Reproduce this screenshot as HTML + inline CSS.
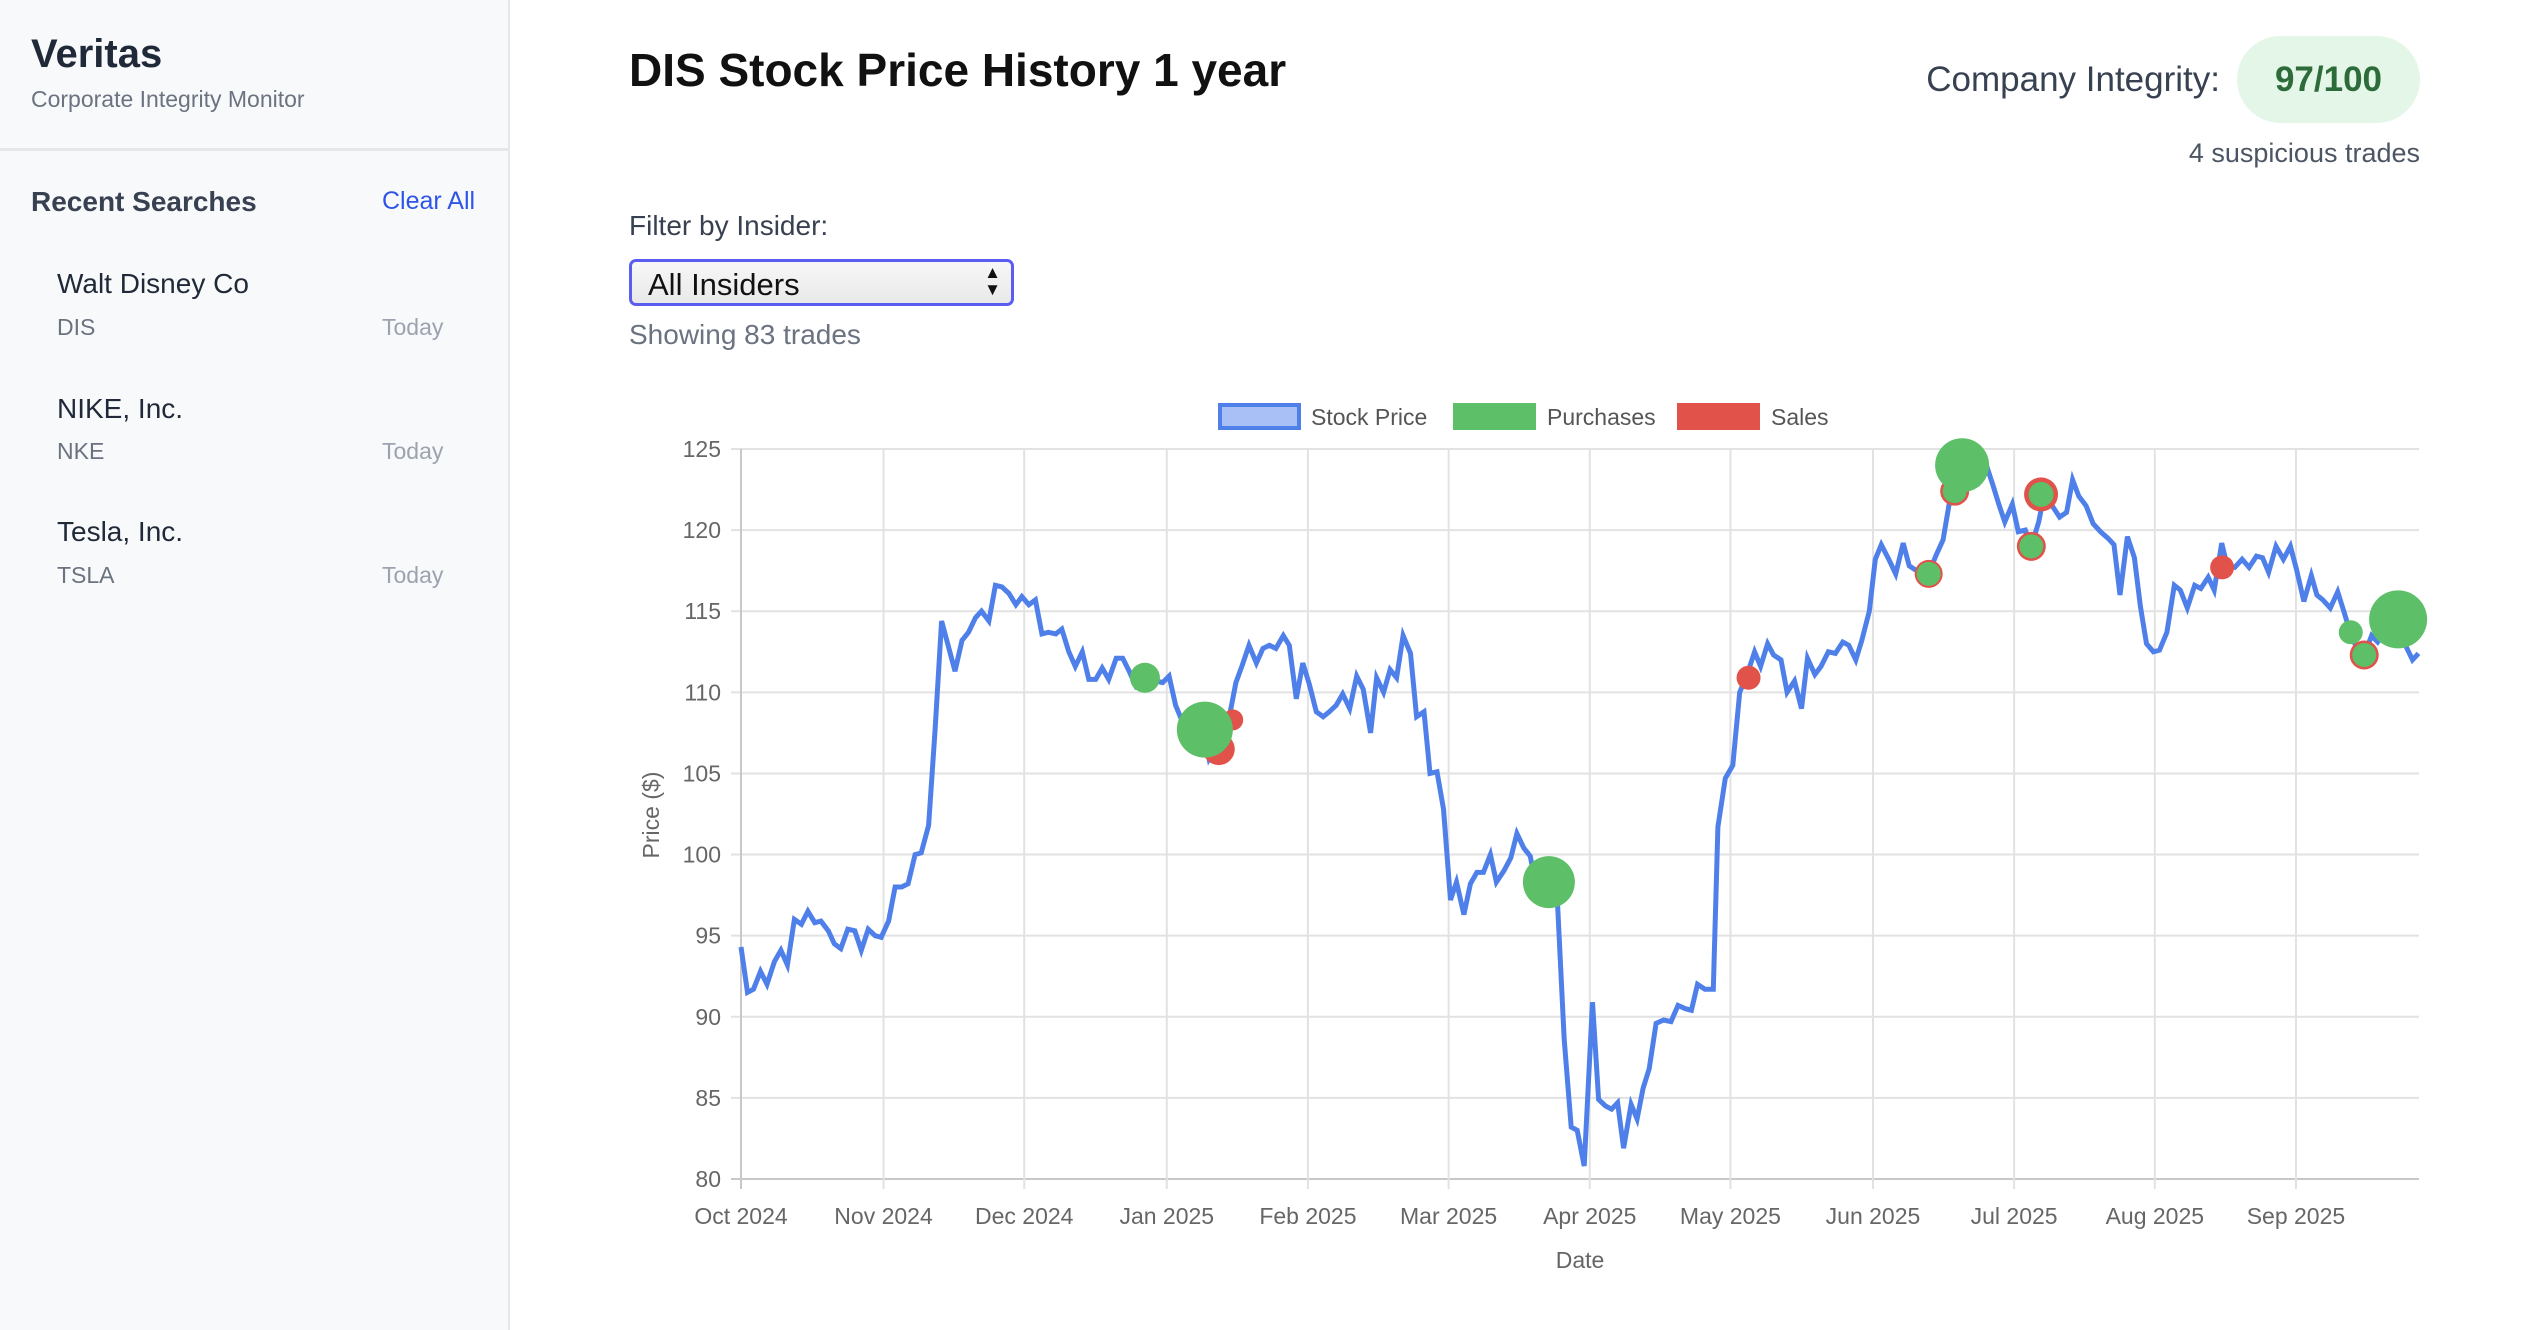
<!DOCTYPE html>
<html><head><meta charset="utf-8">
<style>
*{margin:0;padding:0;box-sizing:border-box}
body{width:2540px;height:1330px;overflow:hidden;background:#fff;font-family:"Liberation Sans",Arial,sans-serif;position:relative;color:#1f2937}
.abs{position:absolute;white-space:nowrap}
#sidebar{position:absolute;left:0;top:0;width:510px;height:1330px;background:#f8f9fb;border-right:2px solid #e5e7eb}
</style></head>
<body>
<div id="sidebar">
  <div class="abs" style="left:31px;top:32px;font-size:40px;font-weight:bold;color:#1f2937">Veritas</div>
  <div class="abs" style="left:31px;top:86px;font-size:23px;color:#6b7280">Corporate Integrity Monitor</div>
  <div class="abs" style="left:0;top:148px;width:508px;height:3px;background:#e5e7eb"></div>
  <div class="abs" style="left:31px;top:186px;font-size:28px;font-weight:bold;color:#374151">Recent Searches</div>
  <div class="abs" style="left:382px;top:187px;font-size:25px;color:#2f55e6">Clear All</div>
  <div>
    <div class="abs" style="left:57px;top:268px;font-size:28px;color:#1f2937">Walt Disney Co</div>
    <div class="abs" style="left:57px;top:314px;font-size:23px;color:#6b7280">DIS</div>
    <div class="abs" style="left:382px;top:314px;font-size:23px;color:#9ca3af">Today</div>
  </div>
  <div>
    <div class="abs" style="left:57px;top:393px;font-size:28px;color:#1f2937">NIKE, Inc.</div>
    <div class="abs" style="left:57px;top:438px;font-size:23px;color:#6b7280">NKE</div>
    <div class="abs" style="left:382px;top:438px;font-size:23px;color:#9ca3af">Today</div>
  </div>
  <div>
    <div class="abs" style="left:57px;top:516px;font-size:28px;color:#1f2937">Tesla, Inc.</div>
    <div class="abs" style="left:57px;top:562px;font-size:23px;color:#6b7280">TSLA</div>
    <div class="abs" style="left:382px;top:562px;font-size:23px;color:#9ca3af">Today</div>
  </div>
</div>

<div class="abs" style="left:629px;top:43px;font-size:46px;font-weight:bold;color:#111">DIS Stock Price History 1 year</div>
<div class="abs" style="right:320px;top:60px;font-size:35px;color:#374151">Company Integrity:</div>
<div class="abs" style="left:2237px;top:36px;width:183px;height:87px;border-radius:44px;background:#e3f6e7;color:#2e6b3a;font-size:35px;font-weight:bold;text-align:center;line-height:87px">97/100</div>
<div class="abs" style="right:120px;top:138px;font-size:27px;color:#4b5563">4 suspicious trades</div>
<div class="abs" style="left:629px;top:210px;font-size:28px;color:#374151">Filter by Insider:</div>
<div class="abs" style="left:629px;top:259px;width:385px;height:47px;border:3px solid #5b5cf0;border-radius:7px;background:linear-gradient(#f7f7f7,#e9e9e9);">
  <span class="abs" style="left:16px;top:5px;font-size:31px;color:#111">All Insiders</span>
  <span class="abs" style="right:10px;top:2px;font-size:17px;line-height:17px;color:#111">▲<br>▼</span>
</div>
<div class="abs" style="left:629px;top:319px;font-size:28px;color:#6b7280">Showing 83 trades</div>

<svg id="chart" width="2540" height="1330" style="position:absolute;left:0;top:0" xmlns="http://www.w3.org/2000/svg"></svg>

<script>
const monthLabels=["Oct 2024","Nov 2024","Dec 2024","Jan 2025","Feb 2025","Mar 2025","Apr 2025","May 2025","Jun 2025","Jul 2025","Aug 2025","Sep 2025"];
const monthDays=[0,30.7,61,91.7,122.1,152.4,182.8,213.1,243.8,274.2,304.5,334.9];
const yTicks=[80,85,90,95,100,105,110,115,120,125];
const priceDays=[0,1.4,2.7,4.2,5.6,7.2,8.6,10.0,11.5,13.0,14.4,15.9,17.2,18.8,20.1,21.5,23.0,24.5,25.9,27.4,28.9,30.2,31.8,33.2,34.6,36.0,37.5,38.8,40.4,41.8,43.2,44.6,46.1,47.6,49.0,50.5,51.8,53.4,54.8,56.2,57.7,59.2,60.5,62.0,63.4,64.8,66.2,67.8,69.1,70.6,72.0,73.5,74.9,76.4,77.8,79.2,80.8,82.2,83.6,85.0,86.6,87.9,89.4,90.8,92.2,93.6,95.2,96.5,98.0,99.4,100.8,102.2,103.8,105.1,106.6,108.0,109.4,111.0,112.4,113.8,115.2,116.8,118.1,119.6,121.0,122.4,123.9,125.4,126.7,128.2,129.6,131.1,132.6,134.0,135.6,136.9,138.4,139.8,141.2,142.6,144.2,145.5,147.1,148.4,149.9,151.3,152.8,154.1,155.7,157.1,158.5,159.9,161.4,162.7,164.3,165.8,167.1,168.6,170.0,171.5,173.0,174.4,175.8,177.3,178.8,180.1,181.6,183.4,184.7,186.2,187.5,188.8,190.1,191.7,193.0,194.3,195.6,197.1,198.7,200.3,201.8,203.4,204.7,206.0,207.6,209.4,210.4,212.0,213.6,215.1,216.7,218.3,219.6,221.1,222.4,224.0,225.3,226.9,228.4,229.7,231.3,232.6,234.2,235.7,237.3,238.6,240.1,241.4,243.0,244.3,245.6,247.2,248.7,250.3,251.6,253.2,254.5,255.8,257.3,258.9,260.2,261.8,263.3,264.9,266.5,268.0,269.6,270.9,272.2,273.8,275.1,276.6,277.9,279.5,280.8,282.4,284.0,285.5,286.8,288.1,289.7,291.2,292.8,294.4,295.7,297.0,298.6,300.1,301.4,302.7,304.2,305.5,307.1,308.7,310.0,311.5,313.1,314.4,316.0,317.3,318.9,320.1,321.7,323.3,324.8,326.4,327.7,329.0,330.6,332.2,333.7,335.0,336.6,338.2,339.4,340.7,342.3,343.9,345.2,346.7,348.3,349.6,351.2,352.5,353.8,355.3,356.9,358.5,360.0,361.3];
const prices=[94.3,91.5,91.7,92.8,92.0,93.4,94.1,93.2,96.0,95.7,96.5,95.8,95.9,95.3,94.5,94.2,95.4,95.3,94.1,95.4,95.0,94.9,95.9,98.0,98.0,98.2,100.0,100.1,101.8,107.7,114.4,112.9,111.3,113.2,113.7,114.6,115.0,114.4,116.6,116.5,116.1,115.4,115.9,115.4,115.7,113.6,113.7,113.6,113.9,112.5,111.6,112.5,110.8,110.8,111.5,110.8,112.1,112.1,111.3,110.4,110.9,110.4,110.7,110.6,111.0,109.2,108.1,107.6,107.6,107.7,105.9,106.6,108.3,108.4,110.6,111.7,112.9,111.8,112.7,112.9,112.7,113.5,112.9,109.6,111.8,110.5,108.8,108.5,108.8,109.2,109.9,109.0,111.0,110.2,107.5,110.9,110.0,111.4,110.9,113.5,112.4,108.5,108.8,105.0,105.1,102.8,97.2,98.3,96.3,98.2,98.9,98.9,100.0,98.3,99.0,99.8,101.3,100.4,99.9,97.6,98.3,97.2,97.4,88.6,83.2,83.0,80.8,90.9,84.9,84.5,84.3,84.7,81.9,84.6,83.7,85.6,86.8,89.6,89.8,89.7,90.7,90.5,90.4,92.0,91.7,91.7,101.7,104.7,105.5,110.0,111.1,112.5,111.6,113.0,112.3,112.0,110.0,110.7,109.0,112.1,111.1,111.6,112.5,112.4,113.1,112.9,112.0,113.2,115.0,118.2,119.1,118.2,117.3,119.2,117.8,117.5,117.2,117.3,118.4,119.4,121.6,122.5,124.2,123.7,123.0,124.2,122.8,121.6,120.5,121.6,119.9,120.0,119.0,120.5,122.4,121.5,120.8,121.1,123.1,122.1,121.5,120.4,119.9,119.5,119.1,116.0,119.6,118.3,115.3,113.0,112.5,112.6,113.7,116.6,116.3,115.2,116.6,116.4,117.1,116.3,119.2,117.8,117.7,118.2,117.7,118.4,118.3,117.4,119.0,118.2,119.0,117.6,115.6,117.2,116.0,115.7,115.2,116.2,115.0,113.6,112.5,112.3,113.5,113.1,113.6,114.8,114.5,112.9,112.0,112.4];
const saleDays=[102.9,105.9,217,255.8,261.4,277.9,280,319,349.6];
const salePrices=[106.5,108.3,110.9,117.3,122.4,119.0,122.2,117.7,112.3];
const saleSizes=[16,10.5,12,14,14.5,14.5,17,12,14.5];
const buyDays=[87,99.9,174,255.8,261.4,263,277.9,280,346.7,349.6,356.9];
const buyPrices=[110.9,107.7,98.3,117.3,122.4,124.0,119.0,122.2,113.7,112.3,114.5];
const buySizes=[15,28,26,12,12,27,12,12.5,12,12,29];

const X0=741,X1=2419,Y0=1179,Y1=449,DMAX=361.4,PMIN=80,PMAX=125;
const xs=d=>X0+(d/DMAX)*(X1-X0);
const ys=p=>Y0-(p-PMIN)/(PMAX-PMIN)*(Y0-Y1);
const svg=document.getElementById('chart');
const NS='http://www.w3.org/2000/svg';
function mk(tag,attrs,txt){const e=document.createElementNS(NS,tag);for(const k in attrs)e.setAttribute(k,attrs[k]);if(txt!==undefined)e.textContent=txt;svg.appendChild(e);return e;}

yTicks.forEach(t=>{
  const g=mk('line',{x1:X0-10,x2:X1,y1:ys(t),y2:ys(t),stroke:t===80?'#c8c8c8':'#e2e2e2','stroke-width':2});
  
  
  const l=mk('text',{x:X0-20,y:ys(t)+8,'text-anchor':'end','font-size':23,fill:'#666','font-family':'Liberation Sans, sans-serif'},String(t));
  
  
});
monthDays.forEach((d,i)=>{
  const g=mk('line',{x1:xs(d),x2:xs(d),y1:Y1,y2:Y0+10,stroke:i===0?'#c8c8c8':'#e2e2e2','stroke-width':2});
  
  
  const l=mk('text',{x:xs(d),y:1224,'text-anchor':'middle','font-size':23,fill:'#666','font-family':'Liberation Sans, sans-serif'},monthLabels[i]);
  
  
});
const xt=mk('text',{x:1580,y:1268,'text-anchor':'middle','font-size':23,fill:'#666','font-family':'Liberation Sans, sans-serif'},'Date');


const yt=mk('text',{x:0,y:0,transform:'translate(659,815) rotate(-90)','text-anchor':'middle','font-size':23,fill:'#666','font-family':'Liberation Sans, sans-serif'},'Price ($)');



let d='';
priceDays.forEach((day,i)=>{d+=(i?'L':'M')+xs(day).toFixed(1)+','+ys(prices[i]).toFixed(1);});
const line=mk('path',{d:d,fill:'none',stroke:'#4f80ea','stroke-width':5,'stroke-linejoin':'miter'});



saleDays.forEach((day,i)=>{
  const c=mk('circle',{cx:xs(day),cy:ys(salePrices[i]),r:saleSizes[i],fill:'#e0524a'});
  
  
});
buyDays.forEach((day,i)=>{
  const c=mk('circle',{cx:xs(day),cy:ys(buyPrices[i]),r:buySizes[i],fill:'#5dbf67'});
  
  
});

const lg=[['Stock Price',1218,1311,'#a8c0f5','#4f80ea'],['Purchases',1453,1547,'#5dbf67','#5dbf67'],['Sales',1677,1771,'#e0524a','#e0524a']];
lg.forEach(e=>{
  const r=mk('rect',{x:e[1]+2,y:405,width:79,height:23,fill:e[3],stroke:e[4],'stroke-width':4});
  
  
  const t=mk('text',{x:e[2],y:425,'font-size':23,fill:'#555','font-family':'Liberation Sans, sans-serif'},e[0]);
  
  
});
</script>
</body></html>
